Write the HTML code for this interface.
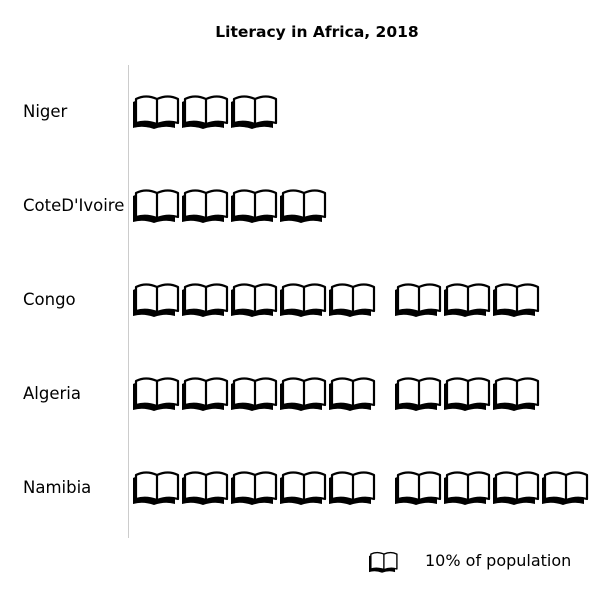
<!DOCTYPE html>
<html><head><meta charset="utf-8"><style>
body{margin:0;background:#fff;font-family:"DejaVu Sans",Verdana,sans-serif}
</style></head><body>
<svg id="c" width="600" height="600" xmlns="http://www.w3.org/2000/svg" font-family="DejaVu Sans, Verdana, sans-serif">
<defs>
<g id="book">
<path d="M3,5 Q13,0 24,5 L24,32 Q13,28 3,31 Z M24,5 Q35,0 45,5 L45,31 Q35,28 24,32 Z" fill="#000" transform="translate(-3,3)"/>
<path d="M3,5 Q13,0 24,5 L24,30 Q13,26 3,29 Z M24,5 Q35,0 45,5 L45,29 Q35,26 24,30 Z" fill="#fff" stroke="#000" stroke-width="2.2" stroke-linejoin="round"/>
</g>
</defs>
<text x="317" y="37" text-anchor="middle" font-size="15.5" font-weight="bold">Literacy in Africa, 2018</text>
<line x1="128.5" y1="65" x2="128.5" y2="538" stroke="#ccc"/>
<g id="rows"></g>
<g>
<use href="#book" transform="translate(369,551) scale(0.62)"/>
<text x="425" y="566" font-size="16">10% of population</text>
</g>
</svg>
<script>
const categories=["Niger","CoteD'Ivoire","Congo","Algeria","Namibia"];
const values=[3,4,8,8,9];
const rows=document.getElementById('rows');
const NS="http://www.w3.org/2000/svg";
function yPos(i){return 111+i*94;}
function xPos(k){return 133+k*49+(k>=5?17:0);}
categories.forEach((c,i)=>{
  const t=document.createElementNS(NS,'text');
  
  
  t.setAttribute('x',23);t.setAttribute('y',yPos(i)+6);t.setAttribute('font-size','16.5');
  t.textContent=c;rows.appendChild(t);
  const n=Math.floor(values[i]);
  for(let k=0;k<n;k++){
    const u=document.createElementNS(NS,'use');
    
    
    u.setAttribute('href','#book');
    u.setAttribute('transform','translate('+xPos(k)+','+(yPos(i)-17)+')');
    rows.appendChild(u);
  }
});
</script>
</body></html>
